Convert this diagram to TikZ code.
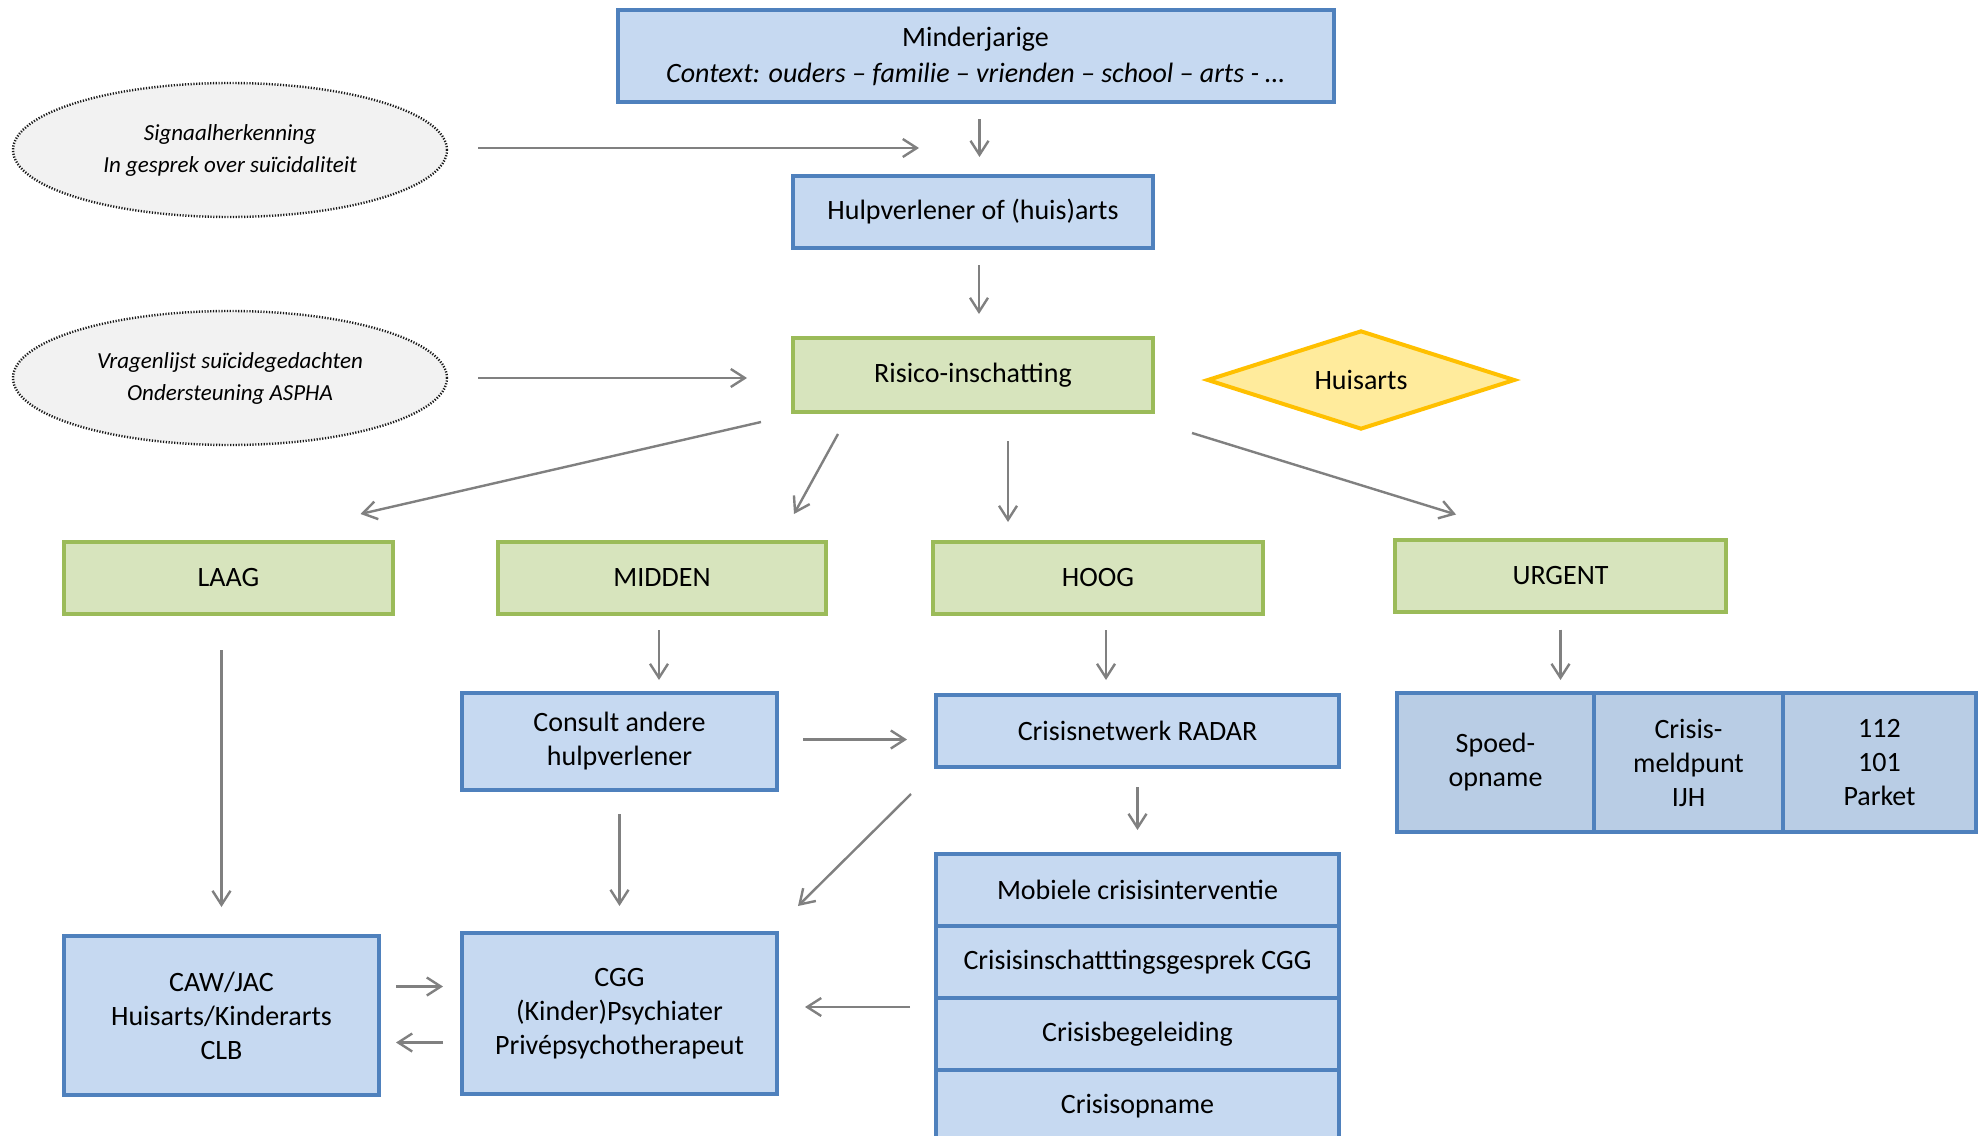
\documentclass[tikz,border=0pt]{standalone}
\usepackage{fontspec}
\setmainfont{Carlito}
\usetikzlibrary{shapes.geometric,arrows.meta,calc}
\definecolor{bfill}{RGB}{198,217,241}
\definecolor{bdraw}{RGB}{79,129,189}
\definecolor{tfill}{RGB}{185,205,229}
\definecolor{gfill}{RGB}{215,228,189}
\definecolor{gdraw}{RGB}{155,187,89}
\definecolor{yfill}{RGB}{255,235,156}
\definecolor{ydraw}{RGB}{255,192,0}
\definecolor{efill}{RGB}{242,242,242}
\definecolor{arrc}{RGB}{128,128,128}
\begin{document}
\begin{tikzpicture}[x=0.5pt,y=-0.5pt,
  font=\fontsize{14}{17}\selectfont,
  box/.style={draw, line width=2pt, align=center, inner sep=0pt},
  bluebox/.style={box, draw=bdraw, fill=bfill},
  greenbox/.style={box, draw=gdraw, fill=gfill},
  tablecell/.style={box, draw=bdraw, fill=tfill},
  bubble/.style={ellipse, draw=black!90, fill=efill, line width=1.2pt,
    dash pattern=on 0.6pt off 0.8pt, align=center, inner sep=0pt,
    minimum width=217pt, minimum height=67pt,
    font=\fontsize{11.5}{16}\selectfont\itshape},
  arr/.style={draw=arrc, line width=1.2pt, -{Straight Barb[length=7pt,width=9pt]}},
]
\clip (0,0) rectangle (1980,1135);
\fill[white] (0,0) rectangle (1980,1135);

% top
\node[bluebox, minimum width=358pt, minimum height=46pt] (mind) at (975.5,56)
  {\raisebox{-2pt}{Minderjarige}\\[3pt] \textit{Context: ouders – familie – vrienden – school – arts - …}};
\node[bluebox, minimum width=180pt, minimum height=36pt] (hulp) at (973,212) {Hulpverlener of (huis)arts};
\node[greenbox, minimum width=180pt, minimum height=37pt] (risico) at (973,375) {Risico-inschatting};
\node[bubble] (ell1) at (230,150) {Signaalherkenning\\In gesprek over suïcidaliteit};
\node[bubble] (ell2) at (230,378) {Vragenlijst suïcidegedachten\\Ondersteuning ASPHA};
\node[diamond, aspect=3, draw=ydraw, fill=yfill, line width=2pt, inner sep=0pt,
  minimum width=154pt, minimum height=49.5pt] (huis) at (1361,380) {Huisarts};

% levels
\node[greenbox, minimum width=164.5pt, minimum height=36pt] (laag) at (228.5,578) {LAAG};
\node[greenbox, minimum width=164pt, minimum height=36pt] (midden) at (662,578) {MIDDEN};
\node[greenbox, minimum width=165pt, minimum height=36pt] (hoog) at (1098,578) {HOOG};
\node[greenbox, minimum width=165.5pt, minimum height=36pt] (urgent) at (1560.5,575.5) {URGENT};

% middle row
\node[bluebox, minimum width=157.5pt, minimum height=48.5pt] (consult) at (619.5,741.5) {Consult andere\\hulpverlener};
\node[bluebox, minimum width=201.5pt, minimum height=36pt] (radar) at (1137.5,731) {Crisisnetwerk RADAR};
\node[tablecell, minimum width=98.5pt, minimum height=69.5pt] (u1) at (1495.5,762.5) {Spoed-\\opname};
\node[tablecell, minimum width=94.5pt, minimum height=69.5pt] (u2) at (1688.5,762.5) {Crisis-\\meldpunt\\IJH};
\node[tablecell, minimum width=96.5pt, minimum height=69.5pt] (u3) at (1879.5,762.5) {112\\101\\Parket};

% stack
\node[bluebox, minimum width=201.5pt, minimum height=36pt] (s1) at (1137.5,890) {Mobiele crisisinterventie};
\node[bluebox, minimum width=201.5pt, minimum height=36pt] (s2) at (1137.5,962) {Crisisinschatttingsgesprek CGG};
\node[bluebox, minimum width=201.5pt, minimum height=36pt] (s3) at (1137.5,1034) {Crisisbegeleiding};
\node[bluebox, minimum width=201.5pt, minimum height=36pt] (s4) at (1137.5,1106) {Crisisopname};

% bottom
\node[bluebox, minimum width=157.5pt, minimum height=79.5pt] (caw) at (221.5,1015.5) {CAW/JAC\\Huisarts/Kinderarts\\CLB};
\node[bluebox, minimum width=157.5pt, minimum height=80.5pt] (cgg) at (619.5,1013.5) {CGG\\(Kinder)Psychiater\\Privépsychotherapeut};

% connectors
\coordinate (j1) at (919,148);
\draw[arr, shorten <=15pt] (ell1.east |- j1) -- (j1);
\draw[arr, shorten <=7.5pt, shorten >=8.5pt] ([xshift=2pt]mind.south) -- ([xshift=2pt]mind.south |- hulp.north);
\draw[arr, shorten <=7.5pt, shorten >=11pt] ([xshift=3pt]hulp.south) -- ([xshift=3pt]risico.north);
\draw[arr, shorten <=15pt, shorten >=22pt] (ell2.east) -- (ell2.east -| risico.west);
\draw[arr] ($(risico.south west)+(-30,8)$) -- ($(laag.north)+(132,-26)$);
\draw[arr] ($(risico.south west)+(47,20)$) -- ($(midden.north)+(132,-26)$);
\draw[arr] ($(risico.south)+(35,27)$) -- ($(hoog.north)+(-90,-18)$);
\draw[arr] ($(risico.south east)+(37,19)$) -- ($(urgent.north)+(-104.5,-23)$);
\draw[arr, shorten <=17pt, shorten >=13.5pt] (caw.north |- laag.south) -- (caw.north);
\draw[arr, shorten <=7pt, shorten >=5.5pt] ([xshift=-1.5pt]midden.south) -- ([xshift=-1.5pt]midden.south |- consult.north);
\draw[arr, shorten <=7pt, shorten >=6.5pt] ([xshift=4pt]hoog.south) -- ([xshift=4pt]hoog.south |- radar.north);
\draw[arr, shorten <=8pt, shorten >=5.5pt] (urgent.south) -- (urgent.south |- u2.north);
\draw[arr, shorten <=12pt, shorten >=13.5pt] ([yshift=1pt]consult.east) -- ([yshift=1pt]consult.east -| radar.west);
\draw[arr, shorten <=9pt, shorten >=11pt] (radar.south) -- (s1.north);
\draw[arr] ($(radar.south west)+(-23,25)$) -- ($(cgg.north east)+(19,-25)$);
\draw[arr, shorten <=11pt, shorten >=12.5pt] (consult.south) -- (cgg.north);
\draw[arr, shorten <=7.5pt, shorten >=8.5pt] ([yshift=14.5pt]caw.east) -- ([yshift=14.5pt]caw.east -| cgg.west);
\draw[arr, shorten <=8.5pt, shorten >=7.5pt] ([yshift=-13.5pt]caw.east -| cgg.west) -- ([yshift=-13.5pt]caw.east);
\draw[arr, shorten <=12pt, shorten >=13pt] ([yshift=-5.5pt]s3.north west) -- ([yshift=-5.5pt]s3.north west -| cgg.east);
\end{tikzpicture}
\end{document}
